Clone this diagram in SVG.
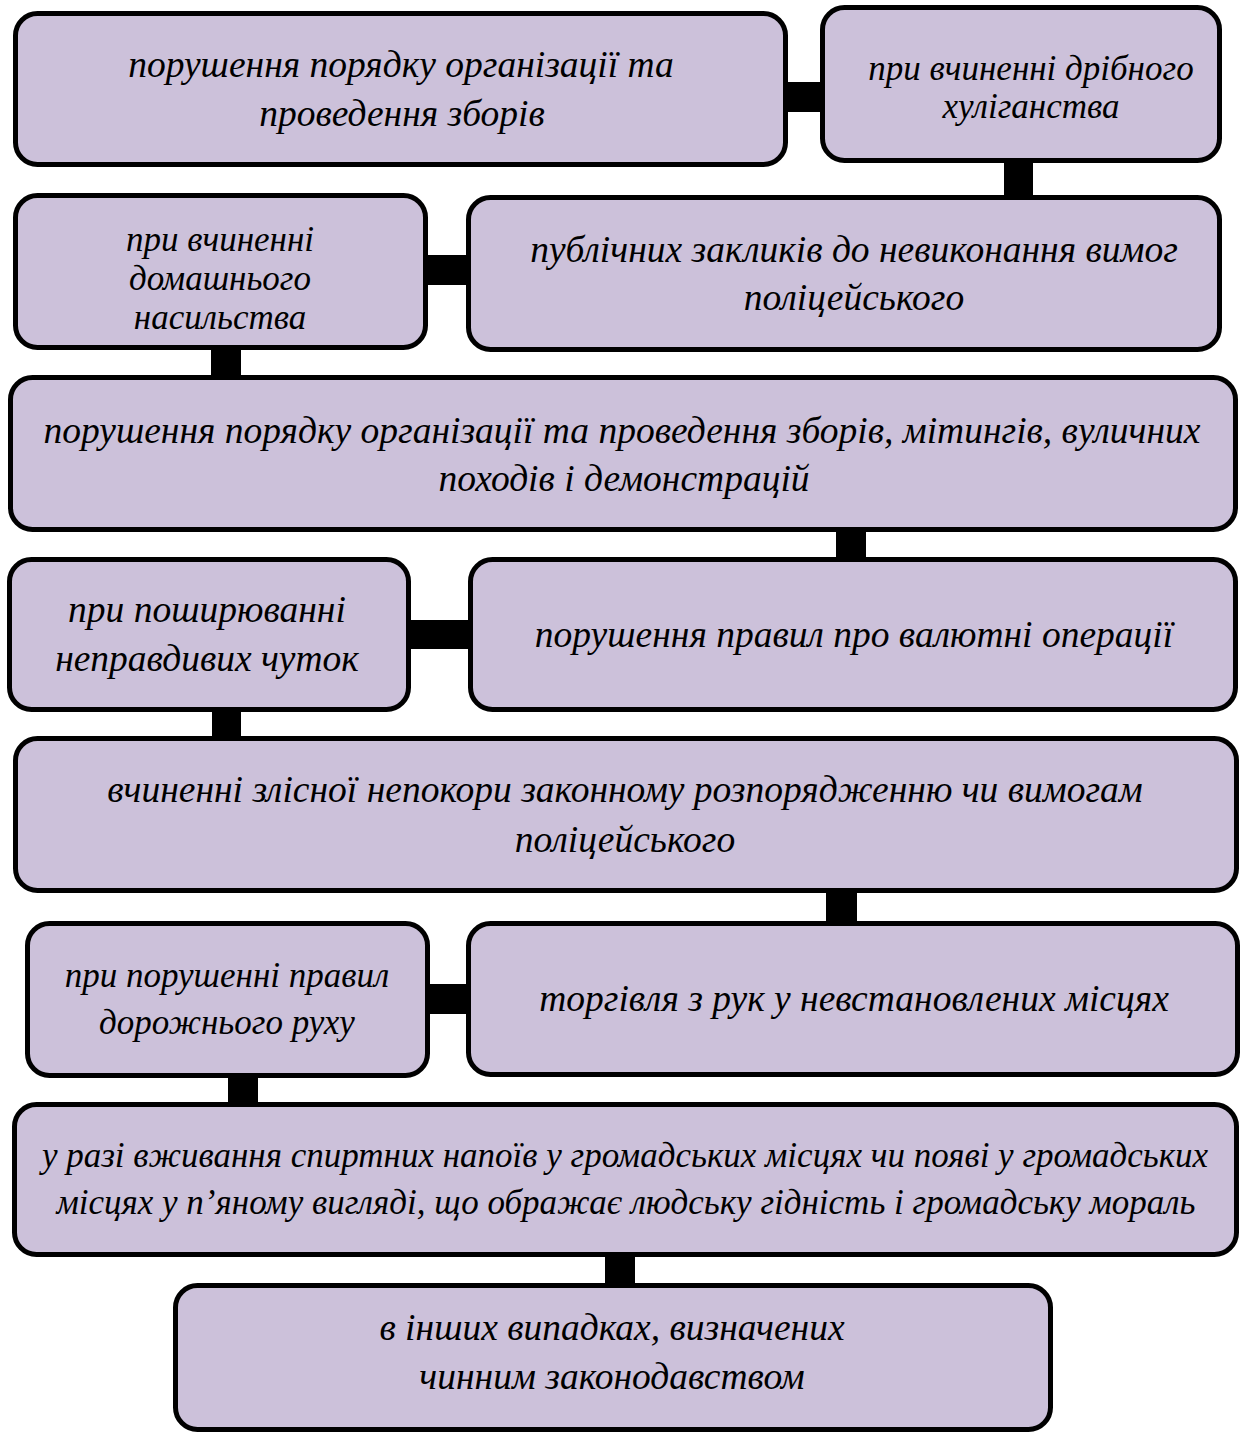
<svg xmlns="http://www.w3.org/2000/svg" width="1242" height="1434" viewBox="0 0 1242 1434">
<style>
.box{fill:#CCC1DA;stroke:#000;stroke-width:5}
.t{font-family:"Liberation Serif","Times New Roman",serif;font-style:italic;font-size:37.5px;fill:#000;text-anchor:middle}
.s{font-size:35px}
.c{fill:#000}
</style>
<rect width="1242" height="1434" fill="#fff"/>
<g id="connectors">
<rect class="c" x="784" y="82" width="40" height="30"/>
<rect class="c" x="1004" y="158" width="29" height="42"/>
<rect class="c" x="424" y="255" width="46" height="30"/>
<rect class="c" x="211" y="345" width="30" height="35"/>
<rect class="c" x="836" y="527" width="30" height="34"/>
<rect class="c" x="407" y="620" width="66" height="29"/>
<rect class="c" x="212" y="708" width="29" height="33"/>
<rect class="c" x="826" y="888" width="31" height="38"/>
<rect class="c" x="425" y="984" width="46" height="30"/>
<rect class="c" x="228" y="1073" width="30" height="34"/>
<rect class="c" x="605" y="1252" width="30" height="36"/>
</g>
<g id="n1"><rect class="box" x="15.5" y="13.5" width="770" height="151" rx="22"/>
<text class="t" x="401" y="77">порушення порядку організації та</text>
<text class="t" x="402" y="126">проведення зборів</text></g>
<g id="n2"><rect class="box" x="822.5" y="7.5" width="397" height="153" rx="22"/>
<text class="t s" x="1031" y="80">при вчиненні дрібного</text>
<text class="t s" x="1031" y="118">хуліганства</text></g>
<g id="n3"><rect class="box" x="468.5" y="197.5" width="751" height="152" rx="22"/>
<text class="t" x="854" y="262">публічних закликів до невиконання вимог</text>
<text class="t" x="854" y="310">поліцейського</text></g>
<g id="n4"><rect class="box" x="15.5" y="195.5" width="410" height="152" rx="22"/>
<text class="t s" x="220" y="251">при вчиненні</text>
<text class="t s" x="220" y="290">домашнього</text>
<text class="t s" x="220" y="329">насильства</text></g>
<g id="n5"><rect class="box" x="10.5" y="377.5" width="1225" height="152" rx="22"/>
<text class="t" x="622" y="443">порушення порядку організації та проведення зборів, мітингів, вуличних</text>
<text class="t" x="624" y="491">походів і демонстрацій</text></g>
<g id="n6"><rect class="box" x="9.5" y="559.5" width="399" height="150" rx="22"/>
<text class="t" x="207" y="622">при поширюванні</text>
<text class="t" x="207" y="671">неправдивих чуток</text></g>
<g id="n7"><rect class="box" x="470.5" y="559.5" width="765" height="150" rx="22"/>
<text class="t" x="854" y="647">порушення правил про валютні операції</text></g>
<g id="n8"><rect class="box" x="15.5" y="738.5" width="1221" height="152" rx="22"/>
<text class="t" x="625" y="802">вчиненні злісної непокори законному розпорядженню чи вимогам</text>
<text class="t" x="625" y="852">поліцейського</text></g>
<g id="n9"><rect class="box" x="27.5" y="923.5" width="400" height="152" rx="22"/>
<text class="t s" x="227" y="987">при порушенні правил</text>
<text class="t s" x="227" y="1034">дорожнього руху</text></g>
<g id="n10"><rect class="box" x="468.5" y="923.5" width="769" height="151" rx="22"/>
<text class="t" x="854" y="1011">торгівля з рук у невстановлених місцях</text></g>
<g id="n11"><rect class="box" x="14.5" y="1104.5" width="1222" height="150" rx="22"/>
<text class="t s" x="625" y="1167">у разі вживання спиртних напоїв у громадських місцях чи появі у громадських</text>
<text class="t s" x="626" y="1214">місцях у п’яному вигляді, що ображає людську гідність і громадську мораль</text></g>
<g id="n12"><rect class="box" x="175.5" y="1285.5" width="875" height="144" rx="22"/>
<text class="t" x="612" y="1340">в інших випадках, визначених</text>
<text class="t" x="612" y="1389">чинним законодавством</text></g>
</svg>
